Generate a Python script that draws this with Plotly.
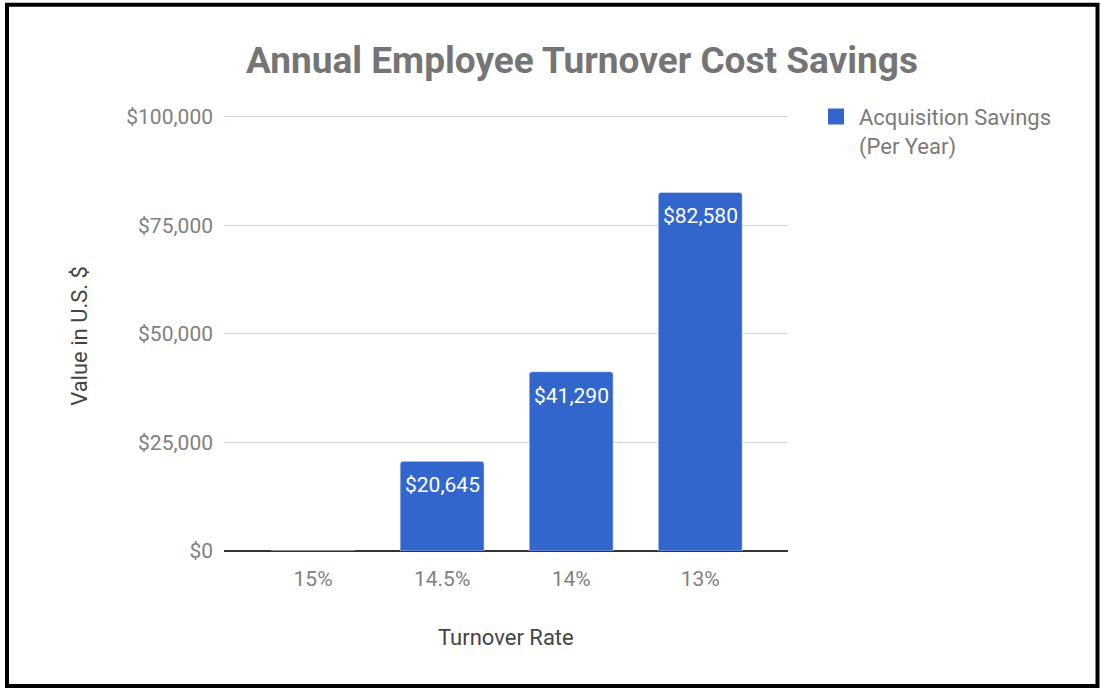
import plotly.graph_objects as go

categories = ["15%", "14.5%", "14%", "13%"]
savings = [0, 20645, 41290, 82580]
series_name = "Acquisition Savings<br>(Per Year)"
y_ticks = [0, 25000, 50000, 75000, 100000]
y_tick_labels = ["$0", "$25,000", "$50,000", "$75,000", "$100,000"]

W, H = 1101, 690
Y_MAX = 100400
L, R, B = 224, 788, 551
T = B - (B - 117) * Y_MAX / 100000
BAR_COLOR = "#3366CC"

def px_x(p):
    return (p - L) / (R - L)

def px_y(p):
    return (B - p) / (B - T)

fig = go.Figure()
fig.add_trace(go.Bar(
    x=categories, y=savings, name=series_name,
    marker=dict(color=BAR_COLOR, cornerradius=3),
    width=0.65, showlegend=False, hoverinfo="x+y",
))
# legend entry
fig.add_trace(go.Scatter(
    x=[None], y=[None], mode="markers", name=series_name,
    marker=dict(symbol="square", size=18, color=BAR_COLOR),
    showlegend=True,
))

for c, v in zip(categories, savings):
    if v:
        fig.add_annotation(x=c, y=v, xref="x", yref="y", text=f"${v:,}",
                           showarrow=False, yanchor="middle", yshift=-24,
                           font=dict(color="white", size=21, family="Roboto"))

fig.update_layout(
    width=W, height=H,
    margin=dict(l=L, r=W - R, t=T, b=H - B),
    paper_bgcolor="white", plot_bgcolor="white",
    font=dict(family="Roboto", color="#7a7a7a", size=21),
    title=dict(text="<b>Annual Employee Turnover Cost Savings</b>",
               x=582 / W, xanchor="center", y=1 - 60 / H, yanchor="middle",
               font=dict(size=37, color="#757575", family="Roboto")),
    xaxis=dict(range=[-0.69, 3.68], showgrid=False, showline=False, ticks="",
               tickfont=dict(size=21, color="#808080"), ticklabelstandoff=13),
    yaxis=dict(range=[0, Y_MAX], tickvals=y_ticks, ticktext=y_tick_labels,
               showgrid=True, gridcolor="#d4d4d4", gridwidth=1,
               zeroline=True, zerolinecolor="#333333", zerolinewidth=1.5,
               tickfont=dict(size=21, color="#808080"), ticklabelstandoff=10),
    legend=dict(x=px_x(813), y=px_y(96), xanchor="left", yanchor="top",
                font=dict(size=22, color="#7a7a7a"), itemsizing="trace",
                itemwidth=36, valign="top", bgcolor="rgba(0,0,0,0)"),
)

fig.add_annotation(text="Value in U.S. $", xref="paper", yref="paper",
                   x=px_x(80), y=px_y(336), xanchor="center", yanchor="middle",
                   textangle=-90, showarrow=False,
                   font=dict(size=22, color="#444444"))
fig.add_annotation(text="Turnover Rate", xref="paper", yref="paper",
                   x=px_x(506), y=px_y(637), xanchor="center", yanchor="middle",
                   showarrow=False,
                   font=dict(size=22, color="#444444"))

fig.add_shape(type="rect", xref="paper", yref="paper",
              x0=px_x(7), x1=px_x(1097.5), y0=px_y(686), y1=px_y(5),
              line=dict(color="black", width=4), fillcolor="rgba(0,0,0,0)")

fig.write_html("out.html", config={"displayModeBar": False},
               post_script="document.body.style.margin='0px';document.body.style.overflow='hidden';")
